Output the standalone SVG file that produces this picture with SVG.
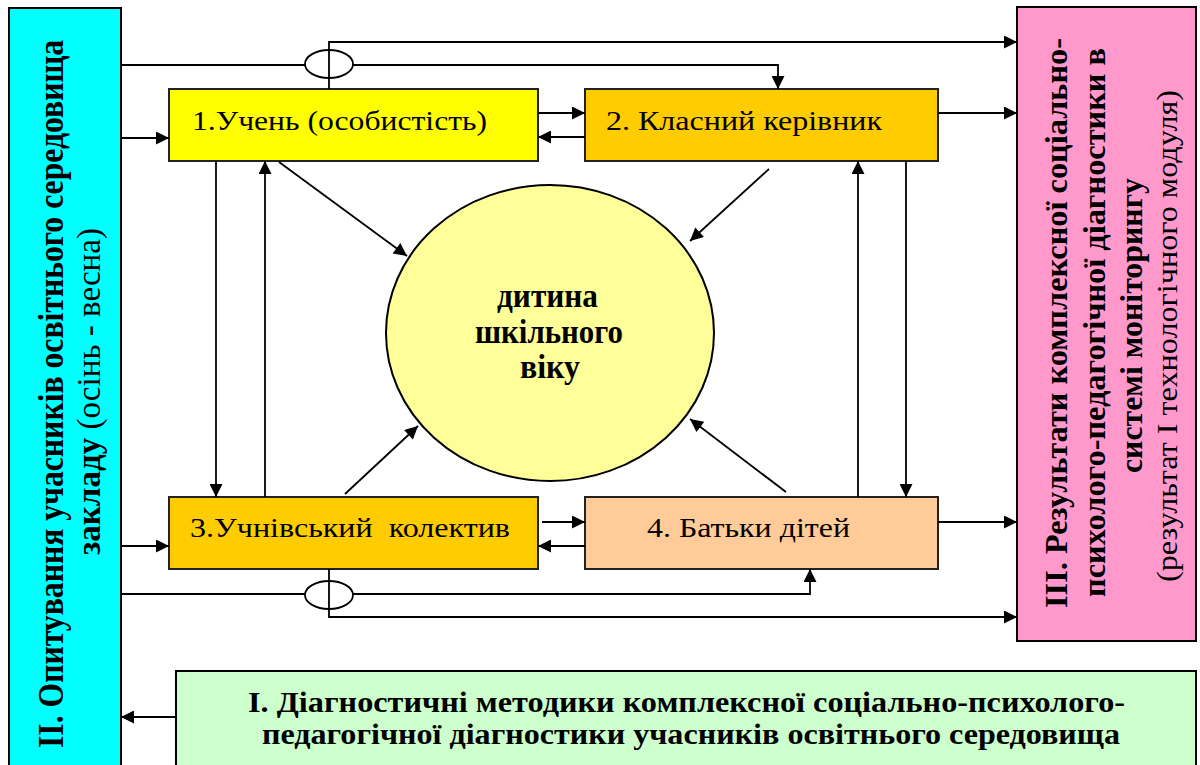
<svg xmlns="http://www.w3.org/2000/svg" width="1200" height="765" viewBox="0 0 1200 765">
<style>
.bar{stroke:#000;stroke-width:2}
.box{stroke:#222;stroke-width:2}
.c{fill:none;stroke:#000;stroke-width:1.8}
text{font-family:"Times New Roman","Liberation Serif",Tinos,Times,"Noto Serif","DejaVu Serif",FreeSerif,serif;fill:#000}
.tb{font-weight:bold}
.tr{font-weight:normal}
</style>
<defs>
<marker id="ah" viewBox="0 0 10 10" refX="10" refY="5" markerWidth="15" markerHeight="13" markerUnits="userSpaceOnUse" orient="auto">
<path d="M0,0 L10,5 L0,10 z" fill="#000"/>
</marker>
</defs>
<rect width="1200" height="765" fill="#fff"/>

<g id="left-bar">
<rect class="bar" x="9" y="8" width="112" height="770" fill="#00FFFF"/>
<text class="tb" font-size="35" transform="rotate(-90)" x="-748" y="63" textLength="708" lengthAdjust="spacingAndGlyphs">ІІ. Опитування учасників освітнього середовища</text>
<text font-size="33" transform="rotate(-90)" x="-555" y="100" textLength="327" lengthAdjust="spacingAndGlyphs"><tspan class="tb">закладу</tspan><tspan class="tr"> (осінь - весна)</tspan></text>
</g>

<g id="right-bar">
<rect class="bar" x="1017" y="7" width="179" height="634" fill="#FF99CC"/>
<text class="tb" font-size="32" transform="rotate(-90)" x="-608" y="1067" textLength="570" lengthAdjust="spacingAndGlyphs">ІІІ. Результати комплексної соціально-</text>
<text class="tb" font-size="32" transform="rotate(-90)" x="-597" y="1105" textLength="549" lengthAdjust="spacingAndGlyphs">психолого-педагогічної діагностики в</text>
<text class="tb" font-size="32" transform="rotate(-90)" x="-473" y="1142" textLength="295" lengthAdjust="spacingAndGlyphs">системі моніторингу</text>
<text class="tr" font-size="30" transform="rotate(-90)" x="-582" y="1177" textLength="492" lengthAdjust="spacingAndGlyphs">(результат І технологічного модуля)</text>
</g>

<g id="bottom-box">
<rect class="bar" x="176" y="671" width="1020" height="110" fill="#CCFFCC"/>
<text class="tb" font-size="29" x="248" y="712" textLength="877" lengthAdjust="spacingAndGlyphs">І. Діагностичні методики комплексної соціально-психолого-</text>
<text class="tb" font-size="29" x="262" y="744" textLength="858" lengthAdjust="spacingAndGlyphs">педагогічної діагностики учасників освітнього середовища</text>
</g>

<g id="node1">
<rect class="box" x="169" y="89" width="369" height="72" fill="#FFFF00"/>
<text class="tr" font-size="27" x="192" y="130" textLength="295" lengthAdjust="spacingAndGlyphs">1.Учень (особистість)</text>
</g>
<g id="node2">
<rect class="box" x="585" y="89" width="353" height="72" fill="#FFCC00"/>
<text class="tr" font-size="27" x="606" y="130" textLength="276" lengthAdjust="spacingAndGlyphs">2. Класний керівник</text>
</g>
<g id="node3">
<rect class="box" x="169" y="497" width="369" height="72" fill="#FFCC00"/>
<text class="tr" font-size="27" x="190" y="537" textLength="320" lengthAdjust="spacingAndGlyphs">3.Учнівський&#160; колектив</text>
</g>
<g id="node4">
<rect class="box" x="585" y="497" width="353" height="72" fill="#FFCC99"/>
<text class="tr" font-size="27" x="647" y="537" textLength="203" lengthAdjust="spacingAndGlyphs">4. Батьки дітей</text>
</g>
<g id="center">
<ellipse cx="550" cy="333" rx="164" ry="148" fill="#FFFF99" stroke="#000" stroke-width="2"/>
<text class="tb" font-size="34" x="497" y="307" textLength="101" lengthAdjust="spacingAndGlyphs">дитина</text>
<text class="tb" font-size="34" x="475" y="343" textLength="148" lengthAdjust="spacingAndGlyphs">шкільного</text>
<text class="tb" font-size="34" x="520" y="378" textLength="60" lengthAdjust="spacingAndGlyphs">віку</text>
</g>

<g id="connectors">
<path class="c" d="M121,65 H305"/>
<path class="c" d="M353,65 H778 V89" marker-end="url(#ah)"/>
<path class="c" d="M329,89 V42 H1017" marker-end="url(#ah)"/>
<ellipse class="c" cx="329" cy="64" rx="24" ry="14"/>
<path class="c" d="M121,138 H169" marker-end="url(#ah)"/>
<path class="c" d="M538,113 H585" marker-end="url(#ah)"/>
<path class="c" d="M585,137 H538" marker-end="url(#ah)"/>
<path class="c" d="M938,113 H1017" marker-end="url(#ah)"/>

<path class="c" d="M121,546 H169" marker-end="url(#ah)"/>
<path class="c" d="M542,522 H585" marker-end="url(#ah)"/>
<path class="c" d="M585,546 H538" marker-end="url(#ah)"/>
<path class="c" d="M938,522 H1017" marker-end="url(#ah)"/>
<path class="c" d="M121,594 H305"/>
<path class="c" d="M353,594 H810 V569" marker-end="url(#ah)"/>
<path class="c" d="M329,569 V617 H1017" marker-end="url(#ah)"/>
<ellipse class="c" cx="329" cy="595" rx="24" ry="14"/>

<path class="c" d="M216,161 V497" marker-end="url(#ah)"/>
<path class="c" d="M265,497 V161" marker-end="url(#ah)"/>
<path class="c" d="M858,497 V161" marker-end="url(#ah)"/>
<path class="c" d="M906,161 V497" marker-end="url(#ah)"/>

<path class="c" d="M279,162 L407,256" marker-end="url(#ah)"/>
<path class="c" d="M769,169 L690,241" marker-end="url(#ah)"/>
<path class="c" d="M345,494 L418,426" marker-end="url(#ah)"/>
<path class="c" d="M786,492 L690,419" marker-end="url(#ah)"/>

<path class="c" d="M176,717 H121" marker-end="url(#ah)"/>
</g>
</svg>
